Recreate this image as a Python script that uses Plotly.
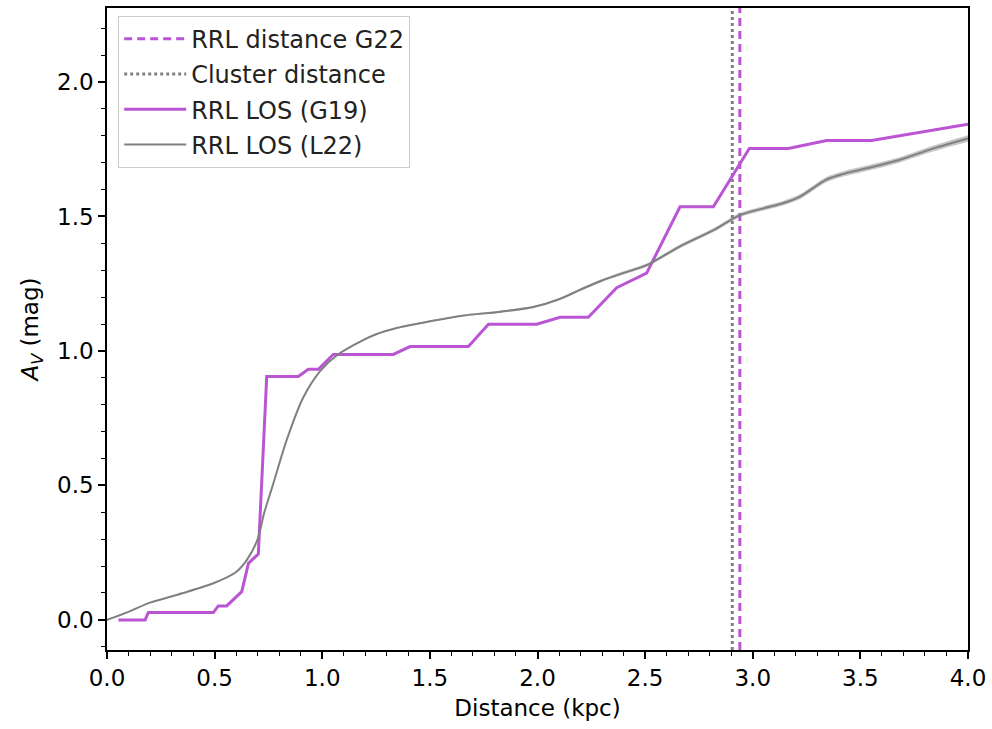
import plotly.graph_objects as go

# G19 line-of-sight extinction (RRL LOS)
g19_dist = [0.053, 0.177, 0.192, 0.494, 0.517, 0.556, 0.626, 0.657, 0.703, 0.742,
            0.889, 0.935, 0.982, 1.051, 1.33, 1.408, 1.679, 1.772, 1.996, 2.105,
            2.236, 2.368, 2.507, 2.662, 2.817, 2.984, 3.165, 3.343, 3.552, 4.0]
g19_av = [0.0, 0.0, 0.027, 0.027, 0.052, 0.052, 0.105, 0.21, 0.245, 0.905,
          0.905, 0.932, 0.932, 0.987, 0.987, 1.016, 1.016, 1.099, 1.099, 1.125,
          1.125, 1.235, 1.289, 1.536, 1.536, 1.753, 1.753, 1.782, 1.782, 1.843]

# L22 line-of-sight extinction
l22_dist = [0.0, 0.1, 0.2, 0.35, 0.5, 0.6, 0.65, 0.7, 0.73, 0.77, 0.835, 0.91,
            0.99, 1.07, 1.19, 1.25, 1.35, 1.5, 1.65, 1.83, 1.98, 2.1, 2.2, 2.3, 2.4,
            2.51, 2.66, 2.82, 2.94, 3.05, 3.14, 3.22, 3.34, 3.43, 3.53, 3.68, 3.84, 4.0]
l22_av = [0.0, 0.03, 0.064, 0.099, 0.138, 0.178, 0.223, 0.30, 0.397, 0.50, 0.669, 0.824,
          0.925, 0.985, 1.04, 1.062, 1.086, 1.11, 1.131, 1.146, 1.163, 1.192, 1.228, 1.262, 1.29,
          1.32, 1.388, 1.45, 1.505, 1.53, 1.549, 1.574, 1.636, 1.66, 1.679, 1.71, 1.753, 1.79]
l22_err = [0.002, 0.002, 0.002, 0.002, 0.002, 0.002, 0.002, 0.003, 0.003, 0.003, 0.003, 0.003,
           0.003, 0.003, 0.003, 0.003, 0.003, 0.003, 0.003, 0.004, 0.004, 0.004, 0.005, 0.005, 0.006,
           0.006, 0.007, 0.007, 0.008, 0.008, 0.008, 0.009, 0.010, 0.010, 0.010, 0.010, 0.011, 0.012]

rrl_dist_g22 = 2.94
cluster_dist = 2.905

x_range = [0.0, 4.0]
y_range = [-0.112, 2.275]

purple = "#BA55D3"
gray = "#808080"
font = "DejaVu Sans"
fs = 23

fig = go.Figure()

fig.add_trace(go.Scatter(x=[rrl_dist_g22, rrl_dist_g22], y=y_range, mode="lines",
                         line=dict(color=purple, width=3, dash="8px,5px"),
                         name="RRL distance G22", legendgroup="a", legendrank=1))
fig.add_trace(go.Scatter(x=[cluster_dist, cluster_dist], y=y_range, mode="lines",
                         line=dict(color=gray, width=3, dash="dot"),
                         name="Cluster distance", legendgroup="b", legendrank=2))
fig.add_trace(go.Scatter(x=g19_dist, y=g19_av, mode="lines",
                         line=dict(color=purple, width=3), name="RRL LOS (G19)",
                         legendgroup="c", legendrank=3))

upper = [a + e for a, e in zip(l22_av, l22_err)]
lower = [a - e for a, e in zip(l22_av, l22_err)]
fig.add_trace(go.Scatter(x=l22_dist, y=upper, mode="lines", line=dict(width=0, shape="spline", smoothing=0.8),
                         showlegend=False, hoverinfo="skip", legendgroup="d"))
fig.add_trace(go.Scatter(x=l22_dist, y=lower, mode="lines", line=dict(width=0, shape="spline", smoothing=0.8),
                         fill="tonexty", fillcolor="rgba(128,128,128,0.45)",
                         showlegend=False, hoverinfo="skip", legendgroup="d"))
fig.add_trace(go.Scatter(x=l22_dist, y=l22_av, mode="lines",
                         line=dict(color=gray, width=2, shape="spline", smoothing=0.8),
                         name="RRL LOS (L22)", legendgroup="d", legendrank=4))

axis_common = dict(showline=True, linecolor="black", linewidth=1.5, mirror=True,
                   ticks="outside", ticklen=7, tickwidth=1.5, tickcolor="black",
                   showgrid=False, zeroline=False, automargin=False,
                   tickfont=dict(family=font, size=fs, color="black"))

fig.update_xaxes(range=x_range, dtick=0.5, tickformat=".1f",
                 minor=dict(ticks="outside", ticklen=4, tickwidth=1.2, tickcolor="black", dtick=0.1),
                 title=dict(text="Distance (kpc)", font=dict(family=font, size=fs, color="black"), standoff=10),
                 **axis_common)
fig.update_yaxes(range=y_range, dtick=0.5, tickformat=".1f",
                 minor=dict(ticks="outside", ticklen=4, tickwidth=1.2, tickcolor="black", dtick=0.1),
                 title=dict(text="<i>A</i><sub><i>V</i></sub> (mag)", font=dict(family=font, size=fs, color="black"), standoff=12),
                 **axis_common)

fig.update_layout(
    width=992, height=729,
    margin=dict(l=107, r=24, t=8, b=79),
    paper_bgcolor="white", plot_bgcolor="white",
    font=dict(family=font, size=fs, color="black"),
    legend=dict(x=0.013, y=0.988, xanchor="left", yanchor="top",
                bgcolor="rgba(255,255,255,0.8)", bordercolor="#cccccc", borderwidth=1,
                font=dict(family=font, size=24, color="#222222"),
                itemwidth=62, traceorder="grouped", tracegroupgap=1),
    showlegend=True,
)

fig.write_html("out.html")
